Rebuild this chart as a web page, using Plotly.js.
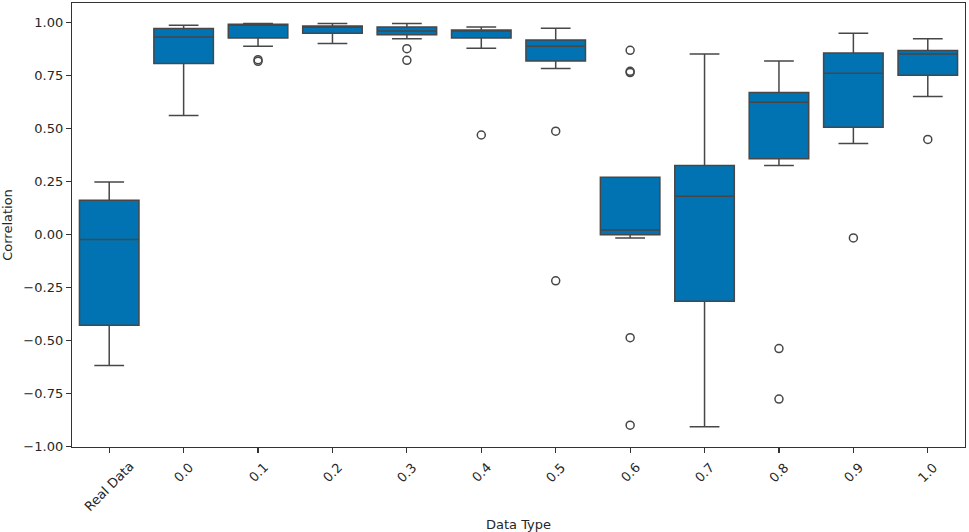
<!DOCTYPE html>
<html>
<head>
<meta charset="utf-8">
<script src="https://cdn.plot.ly/plotly-3.0.1.min.js"></script>
<style>html,body{margin:0;padding:0;background:#fff;}#chart{width:969px;height:532px;}</style>
</head>
<body>
<div id="chart"></div>
<script>
const categories = ["Real Data","0.0","0.1","0.2","0.3","0.4","0.5","0.6","0.7","0.8","0.9","1.0"];
const lowerWhisker = [-0.618, 0.560, 0.886, 0.899, 0.921, 0.877, 0.781, -0.017, -0.907, 0.324, 0.428, 0.649];
const q1Values     = [-0.428, 0.805, 0.925, 0.947, 0.940, 0.925, 0.817, -0.002, -0.315, 0.356, 0.505, 0.750];
const medianValues = [-0.024, 0.930, 0.989, 0.976, 0.958, 0.960, 0.886, 0.020, 0.180, 0.622, 0.759, 0.850];
const q3Values     = [0.161, 0.970, 0.990, 0.982, 0.977, 0.963, 0.916, 0.269, 0.324, 0.668, 0.855, 0.866];
const upperWhisker = [0.247, 0.985, 0.993, 0.993, 0.993, 0.977, 0.971, 0.269, 0.850, 0.817, 0.947, 0.921];
const outlierCats   = ["0.1","0.1","0.3","0.3","0.4","0.5","0.5","0.6","0.6","0.6","0.6","0.6","0.8","0.8","0.9","1.0"];
const outlierValues = [0.823, 0.815, 0.875, 0.820, 0.468, 0.486, -0.219, 0.867, 0.768, 0.762, -0.487, -0.899, -0.538, -0.776, -0.017, 0.447];
const yTicks = [-1.0, -0.75, -0.5, -0.25, 0.0, 0.25, 0.5, 0.75, 1.0];
const yTickText = yTicks.map(v => v.toFixed(2).replace("-", "\u2212"));

const lineCol = "#474747";
const traces = [
  {
    type: "box",
    x: categories,
    q1: q1Values,
    median: medianValues,
    q3: q3Values,
    lowerfence: lowerWhisker,
    upperfence: upperWhisker,
    boxpoints: false,
    fillcolor: "#0173b2",
    line: {color: lineCol, width: 1.5},
    whiskerwidth: 0.5,
    width: 0.8,
    hoverinfo: "skip",
    showlegend: false
  },
  {
    type: "scatter",
    mode: "markers",
    x: outlierCats,
    y: outlierValues,
    marker: {symbol: "circle-open", size: 8, color: lineCol, line: {width: 1.5, color: lineCol}},
    hoverinfo: "skip",
    showlegend: false
  }
];

const fam = "DejaVu Sans, sans-serif";
const tickFont = {family: fam, size: 13, color: "#262626"};
// tick labels centred under each category (matplotlib-style rotated labels)
const tickLabelAnnotations = categories.map((c, i) => ({
  x: i, xref: "x", y: 0, yref: "paper", yshift: -11,
  xanchor: "center", yanchor: "top", textangle: -45,
  text: c, showarrow: false, borderpad: 0, font: tickFont
}));

const layout = {
  width: 969, height: 532,
  margin: {l: 72, r: 4, t: 3, b: 85},
  paper_bgcolor: "#fff", plot_bgcolor: "#fff",
  font: {family: fam, size: 13, color: "#262626"},
  xaxis: {
    type: "category",
    categoryorder: "array", categoryarray: categories,
    range: [-0.5, 11.5],
    showticklabels: false,
    ticks: "outside", ticklen: 5, tickcolor: "#333", tickwidth: 1.2,
    showline: true, mirror: true, linecolor: "#333", linewidth: 1.2,
    showgrid: false, zeroline: false,
    title: {text: "Data Type", font: {family: fam, size: 13, color: "#262626"}, standoff: 68}
  },
  yaxis: {
    range: [-1.002, 1.09],
    tickvals: yTicks,
    ticktext: yTickText,
    ticks: "outside", ticklen: 5, tickcolor: "#333", tickwidth: 1.2,
    showline: true, mirror: true, linecolor: "#333", linewidth: 1.2,
    showgrid: false, zeroline: false,
    tickfont: tickFont,
    title: {text: "Correlation", font: {family: fam, size: 13, color: "#262626"}, standoff: 8}
  },
  annotations: tickLabelAnnotations
};
Plotly.newPlot("chart", traces, layout, {displayModeBar: false, staticPlot: true});
</script>
</body>
</html>
